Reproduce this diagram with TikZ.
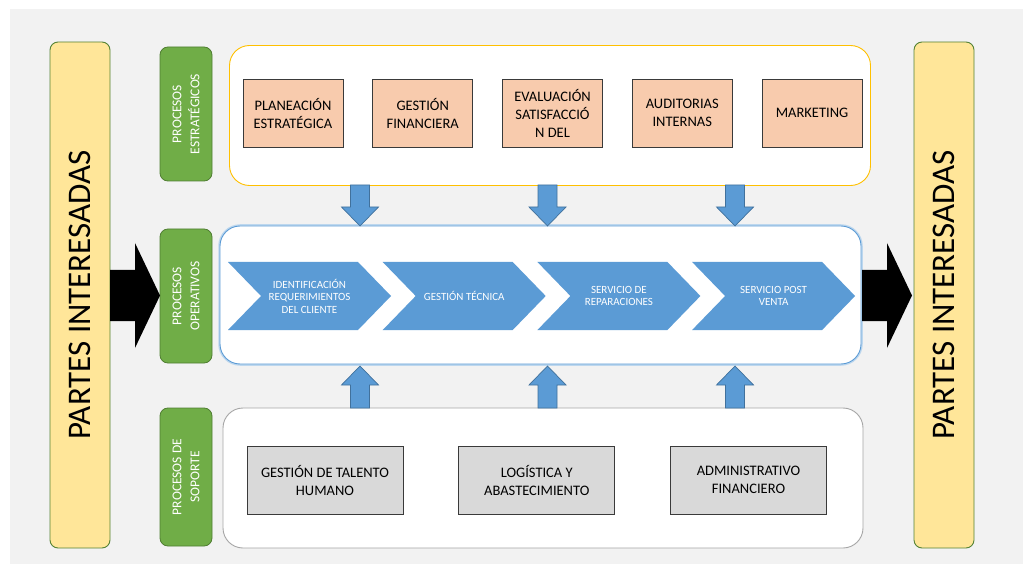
\documentclass[tikz,border=0pt]{standalone}
\usepackage{fontspec}
\setmainfont{Carlito}
\usetikzlibrary{calc}

\definecolor{panelgray}{HTML}{F2F2F2}
\definecolor{partesfill}{HTML}{FFE699}
\definecolor{partesline}{HTML}{548235}
\definecolor{verdefill}{HTML}{70AD47}
\definecolor{verdeline}{HTML}{507E32}
\definecolor{oro}{HTML}{FFC000}
\definecolor{salmon}{HTML}{F8CBAD}
\definecolor{azul}{HTML}{5B9BD5}
\definecolor{azulline}{HTML}{41719C}
\definecolor{azulglow}{HTML}{BDD7EE}
\definecolor{grisbox}{HTML}{D9D9D9}
\definecolor{grisline}{HTML}{A6A6A6}
\definecolor{oscuro}{HTML}{3A3A3A}

\begin{document}
\begin{tikzpicture}[x=1pt, y=-1pt]

 \tikzset{
    partes/.style={
      rectangle,
      rotate=90,
      rounded corners=8pt,
      minimum width=506pt,
      minimum height=60pt,
      inner sep=0pt,
      line width=0.9pt,
      draw=partesline,
      fill=partesfill,
      font=\fontsize{33}{36}\selectfont
    },
    etiqueta/.style={
      rectangle,
      rotate=90,
      rounded corners=8pt,
      minimum height=52pt,
      inner sep=0pt,
      line width=0.8pt,
      draw=verdeline,
      fill=verdefill,
      text=white,
      align=center,
      font=\fontsize{13.5}{18}\selectfont
    },
    marco/.style={
      rectangle,
      rounded corners=20pt,
      minimum width=641pt,
      inner sep=0pt,
      line width=0.9pt,
      fill=white
    },
    caja/.style={
      rectangle,
      minimum height=68pt,
      inner sep=2pt,
      line width=0.9pt,
      draw=oscuro,
      align=center,
      font=\fontsize{14.5}{18}\selectfont
    },
    chevtxt/.style={
      text=white,
      align=center,
      inner sep=0pt,
      font=\fontsize{11}{12.5}\selectfont
    },
    bloque/.style={fill=azul, draw=azulline, line width=0.7pt},
    negra/.style={fill=black}
  }

\useasboundingbox (0,0) rectangle (1023,564);
\fill[panelgray] (10,9) rectangle (1023,564);

% stakeholders on both sides
\node[partes] (partesIzq) at (80,295) {PARTES INTERESADAS};
\node[partes] (partesDer) at (944,295) {PARTES INTERESADAS};

% process group labels
\node[etiqueta, minimum width=134pt] (labEst) at (186,114) {PROCESOS\\ESTRATÉGICOS};
\node[etiqueta, minimum width=134pt] (labOpe) at (186,296) {PROCESOS\\OPERATIVOS};
\node[etiqueta, minimum width=138pt] (labSop) at (186,477) {PROCESOS DE\\SOPORTE};

% containers
\node[marco, draw=oro, minimum height=140pt] (est) at (550,115.5) {};
\node[marco, draw=azul, minimum height=138pt,
      preaction={draw=azulglow, line width=3.5pt}] (ope) at (540.5,295) {};
\node[marco, draw=grisline, minimum width=640pt, minimum height=140pt] (sop) at (543,478) {};

% strategic processes
\foreach \i/\txt in {0/{PLANEACIÓN\\ESTRATÉGICA},
                     1/{GESTIÓN\\FINANCIERA},
                     2/{EVALUACIÓN\\SATISFACCIÓ\\N DEL},
                     3/{AUDITORIAS\\INTERNAS},
                     4/{MARKETING}} {
    \node[caja, fill=salmon, minimum width=100pt] (est\i) at (293+129.75*\i,113) {\txt};
}

% operative chain
\foreach \i/\txt in {0/{IDENTIFICACIÓN\\REQUERIMIENTOS\\DEL CLIENTE},
                     1/{GESTIÓN TÉCNICA},
                     2/{SERVICIO DE\\REPARACIONES},
                     3/{SERVICIO POST\\VENTA}} {
    \pgfmathsetmacro{\L}{228+154.7*\i}
    \fill[azul] (\L,262) -- (\L+130,262) -- (\L+163,296) -- (\L+130,330)
          -- (\L,330) -- (\L+33,296) -- cycle;
    \node[chevtxt] (ope\i) at (\L+81.5,296) {\txt};
}

% support processes
\foreach \i/\txt in {0/{GESTIÓN DE TALENTO\\HUMANO},
                     1/{LOGÍSTICA Y\\ABASTECIMIENTO},
                     2/{ADMINISTRATIVO\\FINANCIERO}} {
    \node[caja, fill=grisbox, minimum width=156pt] (sop\i) at (325+211.75*\i,480) {\txt};
}

% block arrows between the groups
\foreach \cx in {360,547.5,735} {
    \draw[bloque] (\cx-9.5,185) -- (\cx+9.5,185) -- (\cx+9.5,207) -- (\cx+18.5,207)
          -- (\cx,226) -- (\cx-18.5,207) -- (\cx-9.5,207) -- cycle;
    \draw[bloque] (\cx-9.5,408) -- (\cx+9.5,408) -- (\cx+9.5,385) -- (\cx+18.5,385)
          -- (\cx,366) -- (\cx-18.5,385) -- (\cx-9.5,385) -- cycle;
}

% in and out arrows
\fill[negra] (110,270) -- (135,270) -- (135,243) -- (160,295.5) -- (135,348)
      -- (135,321) -- (110,321) -- cycle;
\fill[negra] (862,270) -- (887,270) -- (887,243) -- (912,295.5) -- (887,348)
      -- (887,321) -- (862,321) -- cycle;

\end{tikzpicture}
\end{document}
